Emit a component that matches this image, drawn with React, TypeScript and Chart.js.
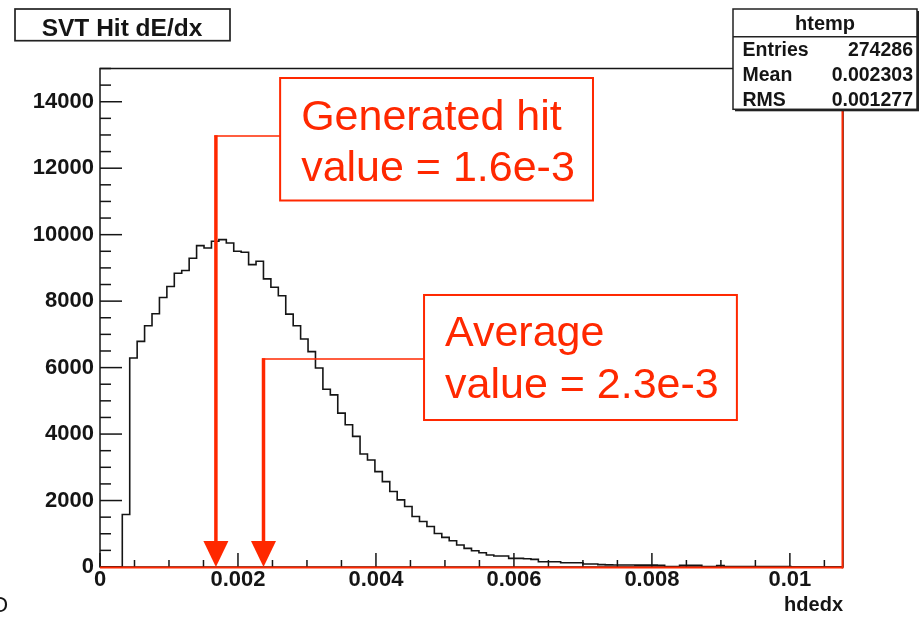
import React, { useEffect, useRef } from "react";
import { Chart, registerables } from "chart.js";

Chart.register(...registerables);

// ---------- data ----------
const X_MIN = 0;
const X_MAX = 0.01077;
const Y_MIN = 0;
const Y_MAX = 15000;

// 100 bins of hdedx counts
const binCounts = [
  0, 0, 0, 1580, 6290, 6790, 7260, 7620, 8110, 8440,
  8840, 8920, 9290, 9670, 9600, 9800, 9850, 9750, 9500, 9470,
  9100, 9200, 8670, 8420, 8160, 7610, 7260, 6860, 6480, 5990,
  5350, 5180, 4630, 4280, 3930, 3400, 3220, 2870, 2570, 2270,
  2020, 1820, 1520, 1370, 1220, 1010, 890, 790, 660, 560,
  490, 430, 360, 330, 330, 260, 260, 250, 230, 160,
  160, 160, 130, 130, 130, 90, 90, 70, 65, 60,
  60, 60, 55, 55, 55, 50, 15, 15, 50, 50,
  50, 10, 10, 40, 10, 10, 10, 10, 10, 10,
  10, 10, 10, 0, 0, 0, 0, 0, 0, 0,
];
const binWidth = (X_MAX - X_MIN) / binCounts.length;

const xTickValues = [0, 0.002, 0.004, 0.006, 0.008, 0.01];
const xTickLabels = ["0", "0.002", "0.004", "0.006", "0.008", "0.01"];
const xMinorStep = 0.0005;
const yTickValues = [0, 2000, 4000, 6000, 8000, 10000, 12000, 14000];
const yTickLabels = ["0", "2000", "4000", "6000", "8000", "10000", "12000", "14000"];
const yMinorStep = 500;

const titleText = "SVT Hit dE/dx";
const xAxisTitle = "hdedx";
const statsTitle = "htemp";
const statsLabels = ["Entries", "Mean", "RMS"];
const statsValues = ["274286", "0.002303", "0.001277"];

// annotation anchors in data coordinates
const annotationArrowX = [0.00168, 0.00237];
const annotationLinkY = [12969, 6259];
const annotationBoxX = [
  [0.002611, 0.007146],
  [0.004697, 0.009232],
];
const annotationBoxY = [
  [14714, 11028],
  [8185, 4423],
];
const annotationText = [
  ["Generated hit", "value = 1.6e-3"],
  ["Average", "value = 2.3e-3"],
];

// ---------- styles ----------
const FONT = '"Liberation Sans", Arial, Helvetica, sans-serif';
const RED = "rgb(255,40,0)";
const INK = "#151515";

const histPoints = [
  ...binCounts.map((c, i) => ({ x: X_MIN + i * binWidth, y: c })),
  { x: X_MAX, y: binCounts[binCounts.length - 1] },
];

function seg(ctx: CanvasRenderingContext2D, x1: number, y1: number, x2: number, y2: number) {
  ctx.beginPath();
  ctx.moveTo(x1, y1);
  ctx.lineTo(x2, y2);
  ctx.stroke();
}

const rootPlugin = {
  id: "rootStyle",
  beforeDatasetsDraw(chart: any) {
    const { ctx, chartArea: a, scales } = chart;
    const x = scales.x;
    const y = scales.y;
    ctx.save();
    ctx.strokeStyle = INK;
    ctx.lineWidth = 1.5;
    ctx.strokeRect(a.left, a.top, a.right - a.left, a.bottom - a.top);
    // y ticks (inside frame)
    for (let i = 0; ; i++) {
      const v = Y_MIN + i * yMinorStep;
      if (v > Y_MAX + 1e-6) break;
      const py = y.getPixelForValue(v);
      const major = yTickValues.includes(v);
      seg(ctx, a.left, py, a.left + (major ? 22 : 11), py);
    }
    // x ticks (inside frame)
    for (let i = 0; ; i++) {
      const v = X_MIN + i * xMinorStep;
      if (v > X_MAX) break;
      const px = x.getPixelForValue(v);
      const major = i % 4 === 0;
      seg(ctx, px, a.bottom, px, a.bottom - (major ? 14 : 7));
    }
    ctx.restore();
  },
  afterDatasetsDraw(chart: any) {
    const { ctx, chartArea: a, scales } = chart;
    const x = scales.x;
    const y = scales.y;
    ctx.save();
    // red baseline and right edge
    ctx.strokeStyle = RED;
    ctx.lineWidth = 2;
    const base = y.getPixelForValue(0) + 0.5;
    seg(ctx, a.left, base, a.right, base);
    seg(ctx, a.right - 0.5, a.top, a.right - 0.5, base + 1);

    // annotations
    for (let k = 0; k < annotationArrowX.length; k++) {
      const ax = x.getPixelForValue(annotationArrowX[k]);
      const ly = y.getPixelForValue(annotationLinkY[k]);
      const bx0 = x.getPixelForValue(annotationBoxX[k][0]);
      const bx1 = x.getPixelForValue(annotationBoxX[k][1]);
      const by0 = y.getPixelForValue(annotationBoxY[k][0]);
      const by1 = y.getPixelForValue(annotationBoxY[k][1]);
      const tip = y.getPixelForValue(0);
      const headH = 26;
      const headW = 25;
      ctx.strokeStyle = RED;
      ctx.fillStyle = RED;
      // connector
      ctx.lineWidth = 1.6;
      seg(ctx, bx0, ly, ax - 1.5, ly);
      // shaft
      ctx.lineWidth = 3.5;
      seg(ctx, ax, ly - 0.8, ax, tip - headH + 2);
      // head
      ctx.beginPath();
      ctx.moveTo(ax - headW / 2, tip - headH);
      ctx.lineTo(ax + headW / 2, tip - headH);
      ctx.lineTo(ax, tip);
      ctx.closePath();
      ctx.fill();
      // box
      ctx.lineWidth = 2;
      ctx.fillStyle = "#ffffff";
      ctx.fillRect(bx0, by0, bx1 - bx0, by1 - by0);
      ctx.strokeRect(bx0, by0, bx1 - bx0, by1 - by0);
      // text
      ctx.fillStyle = RED;
      ctx.font = `43px ${FONT}`;
      ctx.textAlign = "left";
      ctx.textBaseline = "alphabetic";
      annotationText[k].forEach((t, j) => {
        ctx.fillText(t, bx0 + 21, by0 + 51.5 + j * 51.5);
      });
    }
    ctx.restore();
  },
  afterDraw(chart: any) {
    const { ctx } = chart;
    ctx.save();
    // title box
    ctx.fillStyle = "#ffffff";
    ctx.fillRect(15, 9, 215, 31.7);
    ctx.strokeStyle = "#222";
    ctx.lineWidth = 1.7;
    ctx.strokeRect(15, 9, 215, 31.7);
    ctx.fillStyle = INK;
    ctx.font = `bold 24.5px ${FONT}`;
    ctx.textAlign = "center";
    ctx.textBaseline = "alphabetic";
    ctx.fillText(titleText, 122, 36);

    // stats box
    const sx = 733;
    const sy = 9;
    const sw = 184;
    const sh = 100.3;
    ctx.fillStyle = "#222";
    ctx.fillRect(sx + 2, sy + 2, sw, sh);
    ctx.fillStyle = "#ffffff";
    ctx.fillRect(sx, sy, sw, sh);
    ctx.strokeStyle = "#222";
    ctx.lineWidth = 1.5;
    ctx.strokeRect(sx, sy, sw, sh);
    seg(ctx, sx, 36.7, sx + sw, 36.7);
    ctx.fillStyle = INK;
    ctx.font = `bold 20px ${FONT}`;
    ctx.textAlign = "center";
    ctx.fillText(statsTitle, sx + sw / 2, 30);
    ctx.font = `bold 19.5px ${FONT}`;
    statsLabels.forEach((lab, i) => {
      const by = 56 + i * 25;
      ctx.textAlign = "left";
      ctx.fillText(lab, sx + 9.5, by);
      ctx.textAlign = "right";
      ctx.fillText(statsValues[i], sx + sw - 4, by);
    });

    // clipped glyph at the lower-left edge
    ctx.font = `22px ${FONT}`;
    ctx.textAlign = "left";
    ctx.fillStyle = INK;
    ctx.fillText("O", -9, 612);
    ctx.restore();
  },
};

export default function App() {
  const canvasRef = useRef<HTMLCanvasElement | null>(null);

  useEffect(() => {
    const canvas = canvasRef.current;
    if (!canvas) return;
    const chart = new Chart(canvas, {
      type: "line",
      data: {
        datasets: [
          {
            data: histPoints,
            stepped: "before",
            borderColor: INK,
            borderWidth: 1.6,
            pointRadius: 0,
            fill: false,
            tension: 0,
          } as any,
        ],
      },
      options: {
        animation: false,
        responsive: false,
        devicePixelRatio: 1,
        parsing: false,
        layout: { padding: { left: 0, top: 68.5, right: 76, bottom: 0 } },
        plugins: {
          legend: { display: false },
          tooltip: { enabled: false },
          title: { display: false },
        },
        scales: {
          x: {
            type: "linear",
            min: X_MIN,
            max: X_MAX,
            grid: { display: false, drawTicks: false },
            border: { display: false },
            afterBuildTicks: (s: any) => {
              s.ticks = xTickValues.map((v) => ({ value: v }));
            },
            afterFit: (s: any) => {
              s.height = 50;
            },
            ticks: {
              autoSkip: false,
              maxRotation: 0,
              minRotation: 0,
              padding: 0,
              color: INK,
              font: { family: FONT, size: 22, weight: "bold" },
              callback: (_v: any, i: number) => xTickLabels[i],
            },
            title: {
              display: true,
              text: xAxisTitle,
              align: "end",
              color: INK,
              font: { family: FONT, size: 20, weight: "bold" },
              padding: { top: 0, bottom: 0 },
            },
          },
          y: {
            type: "linear",
            min: Y_MIN,
            max: Y_MAX,
            grid: { display: false, drawTicks: false },
            border: { display: false },
            afterBuildTicks: (s: any) => {
              s.ticks = yTickValues.map((v) => ({ value: v }));
            },
            afterFit: (s: any) => {
              s.width = 100;
            },
            ticks: {
              autoSkip: false,
              padding: 6,
              color: INK,
              font: { family: FONT, size: 22, weight: "bold" },
              callback: (_v: any, i: number) => yTickLabels[i],
            },
          },
        },
      } as any,
      plugins: [rootPlugin as any],
    });
    return () => chart.destroy();
  }, []);

  return (
    <div style={{ position: "fixed", left: 0, top: 0, width: 919, height: 617, background: "#fff" }}>
      <canvas ref={canvasRef} width={919} height={617} style={{ display: "block" }} />
    </div>
  );
}
